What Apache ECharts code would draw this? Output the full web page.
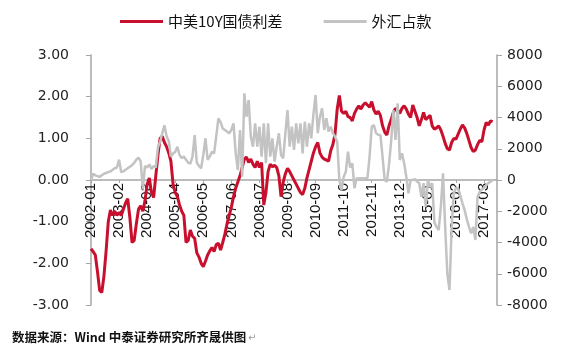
<!DOCTYPE html>
<html>
<head>
<meta charset="utf-8">
<script src="https://cdn.jsdelivr.net/npm/echarts@6/dist/echarts.min.js"></script>
<style>
html,body{margin:0;padding:0;background:#fff;}
#c{width:561px;height:359px;}
</style>
</head>
<body>
<div id="c"></div>
<script>
// month labels 2002-01 .. 2017-09
var startYear = 2002, monthCount = 189;
var categories = [];
for (var k = 0; k < monthCount; k++) {
  var y = startYear + Math.floor(k / 12), m = (k % 12) + 1;
  categories.push(y + '-' + (m < 10 ? '0' + m : m));
}

var seriesNames = ['中美10Y国债利差', '外汇占款'];

// 中美10Y国债利差 (left axis, %)
var spreadValues = [
  -1.65,-1.72,-1.8,-2.2,-2.65,-2.7,-2.3,-1.7,-1.0,-0.72,
  -0.85,-0.75,-0.85,-0.78,-0.85,-0.7,-0.55,-0.45,-0.9,-1.5,
  -1.45,-1.05,-0.7,-0.62,-0.75,-0.5,-0.1,0.05,-0.3,-0.42,
  0.1,0.6,1.0,1.05,0.9,0.8,0.65,0.45,-0.1,-0.3,
  -0.4,-0.6,-0.75,-0.85,-1.5,-1.45,-1.2,-1.35,-1.4,-1.75,
  -1.85,-2.0,-2.08,-1.95,-1.8,-1.7,-1.62,-1.72,-1.55,-1.52,
  -1.68,-1.5,-1.3,-1.05,-0.85,-0.65,-0.4,-0.2,-0.05,0.1,
  0.3,0.5,0.55,0.42,0.5,0.38,0.3,0.45,0.3,0.42,
  -0.6,-0.3,0.2,0.38,0.32,0.35,0.3,0.1,-0.4,-0.05,
  0.15,0.28,0.2,0.1,0.0,-0.1,-0.2,-0.3,-0.35,-0.2,
  0.05,0.25,0.45,0.65,0.8,0.9,0.65,0.55,0.5,0.48,
  0.45,0.7,0.85,1.1,1.7,2.03,1.65,1.6,1.65,1.52,
  1.5,1.42,1.6,1.7,1.78,1.7,1.8,1.85,1.8,1.75,
  1.88,1.68,1.58,1.65,1.55,1.3,1.15,1.08,1.3,1.45,
  1.62,1.72,1.68,1.6,1.72,1.78,1.7,1.58,1.5,1.8,
  1.65,1.5,1.3,1.45,1.62,1.45,1.5,1.55,1.3,1.22,
  1.25,1.3,1.2,1.05,0.88,0.75,0.72,0.9,1.0,0.98,
  1.1,1.22,1.32,1.25,1.12,0.95,0.78,0.68,0.72,0.85,
  0.95,0.92,1.2,1.38,1.32,1.42,1.4
];

// 外汇占款 (right axis)
var fxValues = [
  0,400,300,250,200,300,400,450,500,550,
  650,750,800,1300,500,550,650,750,850,950,
  1100,1300,1430,1200,-600,900,800,1000,700,900,
  800,2100,2450,3000,3500,2800,2500,1500,1700,1800,
  2130,1600,1400,1500,1300,1100,1050,1500,2880,1100,
  900,750,1600,2670,1300,1500,1800,1700,2800,3950,
  3700,3300,3200,3100,2990,3200,3630,1700,640,3200,
  210,5550,4050,5120,2770,2130,3630,2130,3410,1490,
  3630,1070,3630,1490,2670,1170,2130,2990,1600,1390,
  2990,4480,2130,3410,1920,3630,2350,3630,1700,3730,
  2130,3630,2670,4200,5440,2990,4050,4590,3200,3950,
  3100,3410,3000,2770,2450,0,-640,200,530,1810,
  800,1060,-530,110,100,110,100,110,120,1500,
  3410,3520,2990,2900,2880,1500,0,-110,1000,2500,
  4480,2560,4900,1280,1710,1070,210,-850,0,0,
  50,-100,-210,-1070,-200,-1710,0,-430,-210,-2700,
  -3000,-3200,-1710,430,-3000,-6000,-7040,-3000,-850,-500,
  -530,-1000,-1500,-1920,-2500,-2990,-3410,-3000,-3840,-1070,
  -750,-600,-500,-320,-200,-110,0
];

var leftTicks = {min: -3, max: 3, interval: 1};
var rightTicks = {min: -8000, max: 8000, interval: 2000};
var sourceText = '数据来源：Wind 中泰证券研究所齐晟供图';

var axisGrey = '#a6a6a6';
var gridTop = 55, gridBottom = 54, gridHeight = 359 - gridTop - gridBottom;
var chart = echarts.init(document.getElementById('c'), null, {renderer: 'canvas'});
chart.setOption({
  animation: false,
  backgroundColor: '#fff',
  grid: {left: 91, right: 64, top: gridTop, bottom: gridBottom},
  legend: {
    data: seriesNames,
    top: 9,
    left: 115,
    icon: 'rect',
    itemWidth: 43,
    itemHeight: 3,
    itemGap: 41,
    textStyle: {fontFamily: 'Noto Sans CJK SC', fontSize: 15, color: '#111'}
  },
  xAxis: {
    type: 'category',
    data: categories,
    boundaryGap: false,
    position: 'bottom',
    // place the category axis on the zero line (middle of symmetric value ranges)
    offset: -gridHeight / 2,
    axisLine: {onZero: false, lineStyle: {color: axisGrey, width: 1.5}},
    axisTick: {show: true, interval: 12, length: 3, inside: false, lineStyle: {color: axisGrey}},
    axisLabel: {
      interval: 12, rotate: 90, margin: 3,
      fontFamily: 'Liberation Sans', fontSize: 15, color: '#111'
    },
    splitLine: {show: false}
  },
  yAxis: [
    {
      type: 'value', min: leftTicks.min, max: leftTicks.max, interval: leftTicks.interval,
      axisLine: {show: true, lineStyle: {color: axisGrey, width: 1.5}},
      axisTick: {show: true, length: 5, lineStyle: {color: axisGrey}},
      axisLabel: {
        formatter: function (v) { return v.toFixed(2); },
        fontFamily: 'DejaVu Sans', fontSize: 14, color: '#222', margin: 22
      },
      splitLine: {show: false}
    },
    {
      type: 'value', min: rightTicks.min, max: rightTicks.max, interval: rightTicks.interval,
      axisLine: {show: true, lineStyle: {color: axisGrey, width: 1.5}},
      axisTick: {show: true, length: 5, lineStyle: {color: axisGrey}},
      axisLabel: {
        formatter: function (v) { return String(v); },
        fontFamily: 'DejaVu Sans', fontSize: 14, color: '#222', margin: 10
      },
      splitLine: {show: false}
    }
  ],
  series: [
    {
      name: seriesNames[0], type: 'line', yAxisIndex: 0,
      data: spreadValues, showSymbol: false, symbol: 'none',
      lineStyle: {color: '#c8102e', width: 3},
      itemStyle: {color: '#c8102e'}, z: 2
    },
    {
      name: seriesNames[1], type: 'line', yAxisIndex: 1,
      data: fxValues, showSymbol: false, symbol: 'none',
      lineStyle: {color: '#c3c3c3', width: 2.5},
      itemStyle: {color: '#c3c3c3'}, z: 3
    }
  ],
  graphic: [
    {
      type: 'text', left: 12, top: 331,
      style: {text: sourceText, font: 'bold 12.5px "Noto Sans CJK SC"', fill: '#111'}
    },
    {
      type: 'text', left: 248, top: 333,
      style: {text: '↵', font: '10px "DejaVu Sans"', fill: '#999'}
    }
  ]
});
</script>
</body>
</html>
